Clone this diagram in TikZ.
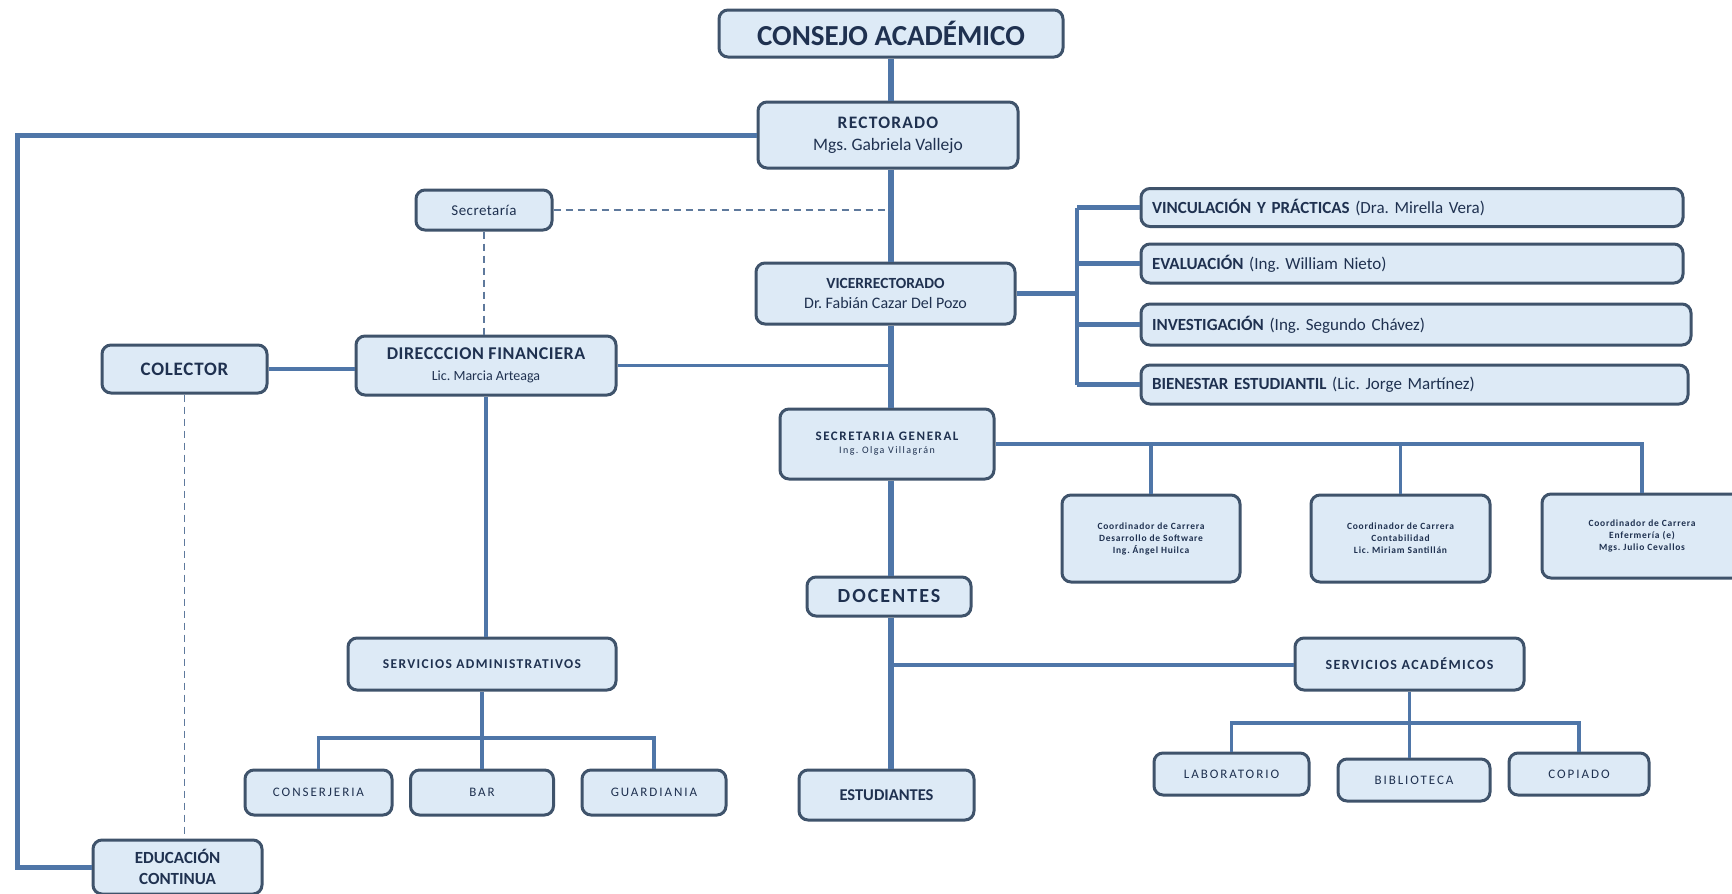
\documentclass[tikz,border=0pt]{standalone}
\usepackage{fontspec}
\setmainfont{Carlito}
\definecolor{boxfill}{HTML}{DDEAF6}
\definecolor{boxline}{HTML}{3F536B}
\definecolor{conn}{HTML}{4F76A8}
\definecolor{txt}{HTML}{1F3150}
\newcommand{\fs}[3]{\fontsize{#1}{#2}\selectfont\addfontfeature{LetterSpace=#3}}
\tikzset{
  x=1pt, y=-1pt,
  box/.style={draw=boxline, fill=boxfill, line width=3pt, rounded corners=9pt, align=center, text=txt, inner sep=2pt},
  mainline/.style={draw=conn, line width=6pt},
  subline/.style={draw=conn, line width=3.5pt},
  dashline/.style={draw=conn!70!gray, line width=1.6pt, dash pattern=on 7pt off 5pt},
  fright/.style={font=\fs{17}{20}{0}},
  fsmall/.style={font=\fs{13}{15}{15}},
  ftiny/.style={font=\fs{9.5}{12}{8}\bfseries},
}
\begin{document}
\frenchspacing
\begin{tikzpicture}
\useasboundingbox (0,0) rectangle (1732,894);
% boxes
\node[box,font=\fs{29}{32}{0}\bfseries,minimum width=344pt,minimum height=47pt] (cons) at (891,33.5) {CONSEJO ACADÉMICO};
\node[box,font=\fontsize{17}{22}\selectfont,minimum width=260pt,minimum height=66pt] (rect) at (888,135) {{\fs{17.5}{22}{7}\bfseries RECTORADO}\\{\fs{17.5}{22}{0}Mgs. Gabriela Vallejo}};
\node[box,font=\fs{15}{17}{3},minimum width=136pt,minimum height=40pt] (secr) at (484,210) {Secretaría};
\node[box,font=\fontsize{15}{20}\selectfont,minimum width=259pt,minimum height=61pt] (vice) at (885.5,293.5) {{\fs{15.5}{20}{0}\bfseries VICERRECTORADO}\\{\fs{16}{20}{0}Dr. Fabián Cazar Del Pozo}};
\node[box,fright,minimum width=542pt,minimum height=38pt,text width=520pt,align=left] (vinc) at (1412,207.5) {\textbf{VINCULACIÓN Y PRÁCTICAS} (Dra. Mirella Vera)};
\node[box,fright,minimum width=542pt,minimum height=39pt,text width=520pt,align=left] (eval) at (1412,263.5) {\textbf{EVALUACIÓN} (Ing. William Nieto)};
\node[box,fright,minimum width=550pt,minimum height=41pt,text width=528pt,align=left] (inve) at (1416,324.5) {\textbf{INVESTIGACIÓN} (Ing. Segundo Chávez)};
\node[box,fright,minimum width=547pt,minimum height=39pt,text width=525pt,align=left] (bien) at (1414.5,384.5) {\textbf{BIENESTAR ESTUDIANTIL} (Lic. Jorge Martínez)};
\node[box,font=\fontsize{16}{21}\selectfont,minimum width=260pt,minimum height=59pt] (dirf) at (486,365.5) {{\fs{18}{21}{3}\bfseries DIRECCCION FINANCIERA}\\{\fs{14}{21}{0}Lic. Marcia Arteaga}};
\node[box,font=\fs{19}{22}{4}\bfseries,minimum width=165pt,minimum height=48pt] (cole) at (184.5,369) {COLECTOR};
\node[box,font=\fs{13.5}{16}{10}\bfseries,minimum width=268pt,minimum height=52pt] (sadm) at (482,664) {SERVICIOS ADMINISTRATIVOS};
\node[box,fsmall,minimum width=147pt,minimum height=45pt] (conj) at (318.5,792.5) {CONSERJERIA};
\node[box,fsmall,minimum width=143pt,minimum height=45pt] (bar) at (482,792.5) {BAR};
\node[box,fsmall,minimum width=144pt,minimum height=45pt] (guar) at (654,792.5) {GUARDIANIA};
\node[box,font=\fontsize{11}{13}\selectfont,minimum width=214pt,minimum height=70pt] (sgen) at (887,444) {{\fs{13}{13}{12}\bfseries SECRETARIA GENERAL}\\{\fs{10}{13}{14}Ing. Olga Villagrán}};
\node[box,ftiny,minimum width=178pt,minimum height=87pt] (c1) at (1151,538.5) {Coordinador de Carrera\\Desarrollo de Software\\Ing. Ángel Huilca};
\node[box,ftiny,minimum width=179pt,minimum height=87pt] (c2) at (1400.5,538.5) {Coordinador de Carrera\\Contabilidad\\Lic. Miriam Santillán};
\node[box,ftiny,minimum width=200pt,minimum height=84pt] (c3) at (1642,536) {Coordinador de Carrera\\Enfermería (e)\\Mgs. Julio Cevallos};
\node[box,font=\fs{20}{23}{10}\bfseries,minimum width=164pt,minimum height=39pt] (doc) at (889,596.5) {DOCENTES};
\node[box,font=\fs{16.5}{19}{0}\bfseries,minimum width=175pt,minimum height=50pt] (est) at (886.5,795) {ESTUDIANTES};
\node[box,font=\fs{14}{16}{10}\bfseries,minimum width=229pt,minimum height=52pt] (sac) at (1409.5,664) {SERVICIOS ACADÉMICOS};
\node[box,fsmall,minimum width=155pt,minimum height=42pt] (lab) at (1231.5,774) {LABORATORIO};
\node[box,fsmall,minimum width=152pt,minimum height=42pt] (bib) at (1414,780) {BIBLIOTECA};
\node[box,fsmall,minimum width=140pt,minimum height=42pt] (cop) at (1579,774) {COPIADO};
\node[box,font=\fs{17}{21}{0}\bfseries,minimum width=169pt,minimum height=54pt] (edu) at (177.5,867) {EDUCACIÓN\\CONTINUA};
% helper coordinates
\coordinate (lc) at (17,0);
\coordinate (brk) at (1077,0);
\coordinate (jdoc) at (891,665);
\coordinate (busA) at (482,738);
\coordinate (busB) at (1409.5,723);
% main spine
\draw[mainline] (cons.south) -- (cons.south |- rect.north);
\draw[mainline] (cons.south |- rect.south) -- (cons.south |- vice.north);
\draw[mainline] (cons.south |- vice.south) -- (cons.south |- sgen.north);
\draw[mainline] (cons.south |- sgen.south) -- (cons.south |- doc.north);
\draw[mainline] (cons.south |- doc.south) -- (cons.south |- est.north);
% left line to educacion continua
\draw[subline,line width=5pt] (rect.west) -- (rect.west -| lc) |- (edu.west);
% secretaria dashed
\draw[dashline] (secr.east) -- (secr.east -| cons.south);
\draw[dashline] (secr.south) -- (secr.south |- dirf.north);
\draw[dashline] (cole.south) -- (cole.south |- edu.north);
% vicerrectorado bracket
\draw[subline,line width=4.5pt] (vice.east) -- (vice.east -| brk);
\draw[subline,line width=4.5pt] (brk |- vinc.west) -- (brk |- bien.west);
\draw[subline,line width=4.5pt] (brk |- vinc.west) -- (vinc.west);
\draw[subline,line width=4.5pt] (brk |- eval.west) -- (eval.west);
\draw[subline,line width=4.5pt] (brk |- inve.west) -- (inve.west);
\draw[subline,line width=4.5pt] (brk |- bien.west) -- (bien.west);
% direccion financiera
\draw[subline] (dirf.east) -- (dirf.east -| cons.south);
\draw[subline] (cole.east) -- (cole.east -| dirf.west);
\draw[subline] (dirf.south) -- (dirf.south |- sadm.north);
\draw[subline] (sadm.south) -- (busA);
\draw[subline] (conj.north) |- (busA) -| (guar.north);
\draw[subline] (busA) -- (bar.north);
% secretaria general
\draw[subline] (sgen.east) -| (c3.north);
\draw[subline] (c1.north) -- (c1.north |- sgen.east);
\draw[subline] (c2.north) -- (c2.north |- sgen.east);
% docentes to servicios academicos
\draw[subline] (jdoc) -- (jdoc -| sac.west);
\draw[subline] (sac.south) -- (busB);
\draw[subline] (lab.north) |- (busB) -| (cop.north);
\draw[subline] (busB) -- (busB |- bib.north);
\end{tikzpicture}
\end{document}
